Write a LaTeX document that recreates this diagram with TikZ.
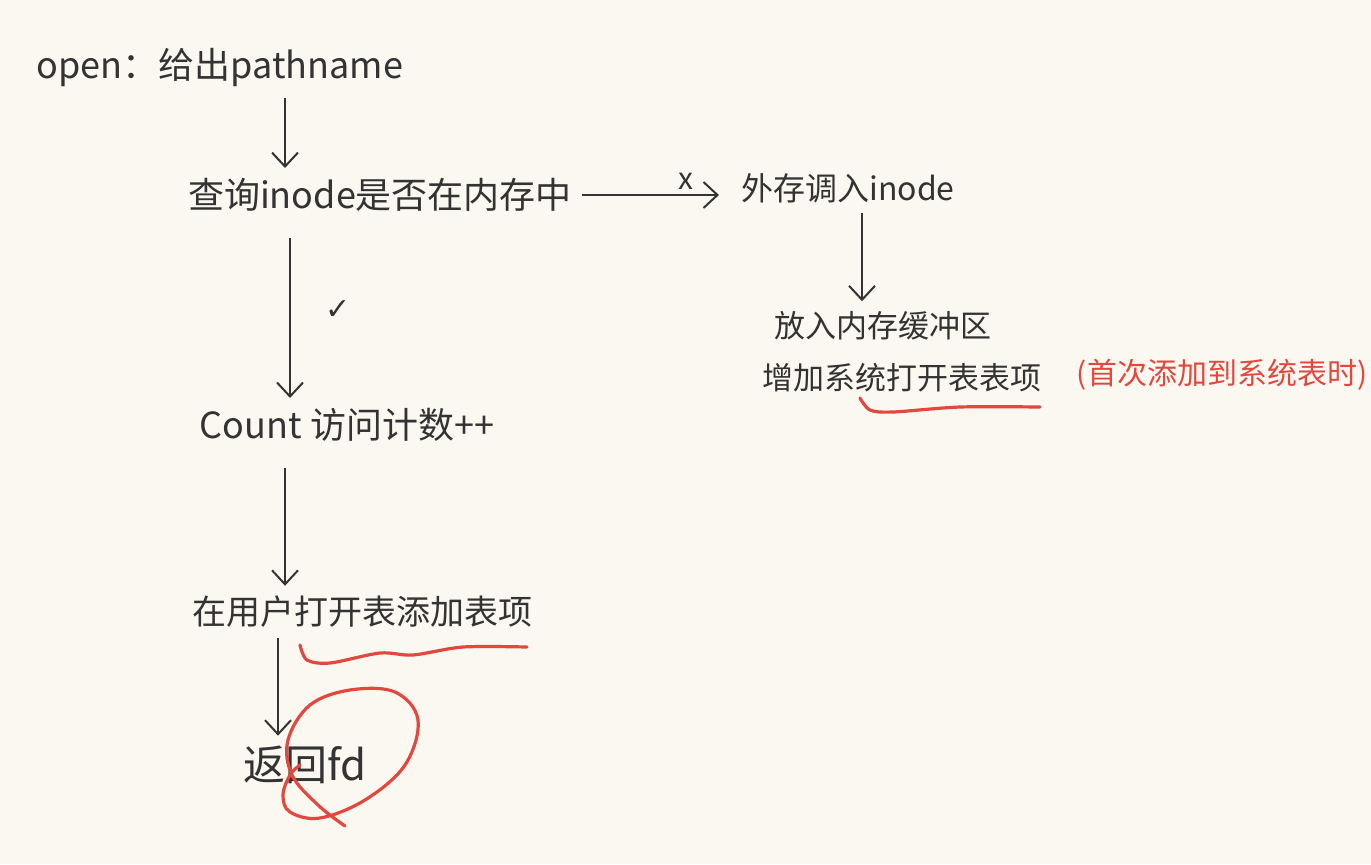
\documentclass[tikz,border=0pt]{standalone}
\usepackage{fontspec}
\setmainfont{Noto Sans CJK SC}
\newfontfamily\symfont{DejaVu Sans}
\usetikzlibrary{arrows.meta}
\definecolor{paper}{HTML}{FBF8F1}
\definecolor{ink}{HTML}{333333}
\definecolor{redpen}{HTML}{E2483D}

\begin{document}
\begin{tikzpicture}[x=0.5pt,y=-0.5pt,
   txt/.style={text=ink,inner xsep=1pt,inner ysep=5pt,font=\fontsize{18}{22}\selectfont},
   arr/.style={draw=ink,line width=1pt,-{Straight Barb[length=7pt,width=13pt,line width=1pt]}},
   redline/.style={draw=redpen,line width=1.6pt,line cap=round,line join=round}]
\fill[paper] (0,0) rectangle (1371,864);
\useasboundingbox (0,0) rectangle (1371,864);
% main column
\node[txt] (open) at (220,68) {open：给出pathname};
\node[txt] (query) at (380,195) {查询inode是否在内存中};
\node[txt] (count) at (347,425) {Count 访问计数++};
\node[txt,font=\fontsize{17}{20}\selectfont] (uopen) at (362,612) {在用户打开表添加表项};
\node[txt,font=\fontsize{21}{24}\selectfont] (ret) at (305,765) {返回fd};
% branch when inode not in memory
\node[txt,font=\fontsize{16}{20}\selectfont] (load) at (848,188) {外存调入inode};
\node[txt,font=\fontsize{15.5}{19}\selectfont] (buf) at (883,326) {放入内存缓冲区};
\node[txt,font=\fontsize{15.5}{19}\selectfont] (sysadd) at (902,378) {增加系统打开表表项};
\node[txt,text=redpen,font=\fontsize{15}{18}\selectfont] (note) at (1222,375) {(首次添加到系统表时)};
% arrows
\draw[arr] ([xshift=32.5pt]open.south) -- ([xshift=-47.5pt]query.north);
\draw[arr,shorten <=4pt,shorten >=10pt] (query.east) -- (query.east -| load.west)
   node[pos=0.68,above=-1pt,text=ink,font=\fontsize{15}{18}\selectfont] (no) {x};
\draw[arr] ([xshift=7pt]load.south) -- ([xshift=-10.5pt]buf.north);
\draw[arr,shorten <=8pt] ([xshift=-45pt]query.south) -- ([xshift=-28.5pt]count.north)
   node[midway,right=14pt,text=ink,font=\symfont\fontsize{15}{18}\selectfont] (yes) {✓};
\draw[arr,shorten <=8pt] ([xshift=-31pt]count.south) -- ([xshift=-38.5pt]uopen.north);
\draw[arr] ([xshift=-42pt]uopen.south) -- ([xshift=-13.5pt]ret.north);
% red pen marks
\draw[redline] plot[smooth] coordinates {(860,398) (870,410) (893,412) (960,407) (1040,407)};
\draw[redline] plot[smooth] coordinates {(300,645) (307,660) (330,663) (380,653) (413,655) (463,647) (527,647)};
\draw[redline] plot[smooth,tension=0.6] coordinates {(345,826) (318,805) (292,775) (288,740) (310,705) (350,690) (395,692) (418,720) (405,765) (365,800) (320,818) (290,812) (283,795) (290,775) (300,765)};
\end{tikzpicture}
\end{document}
